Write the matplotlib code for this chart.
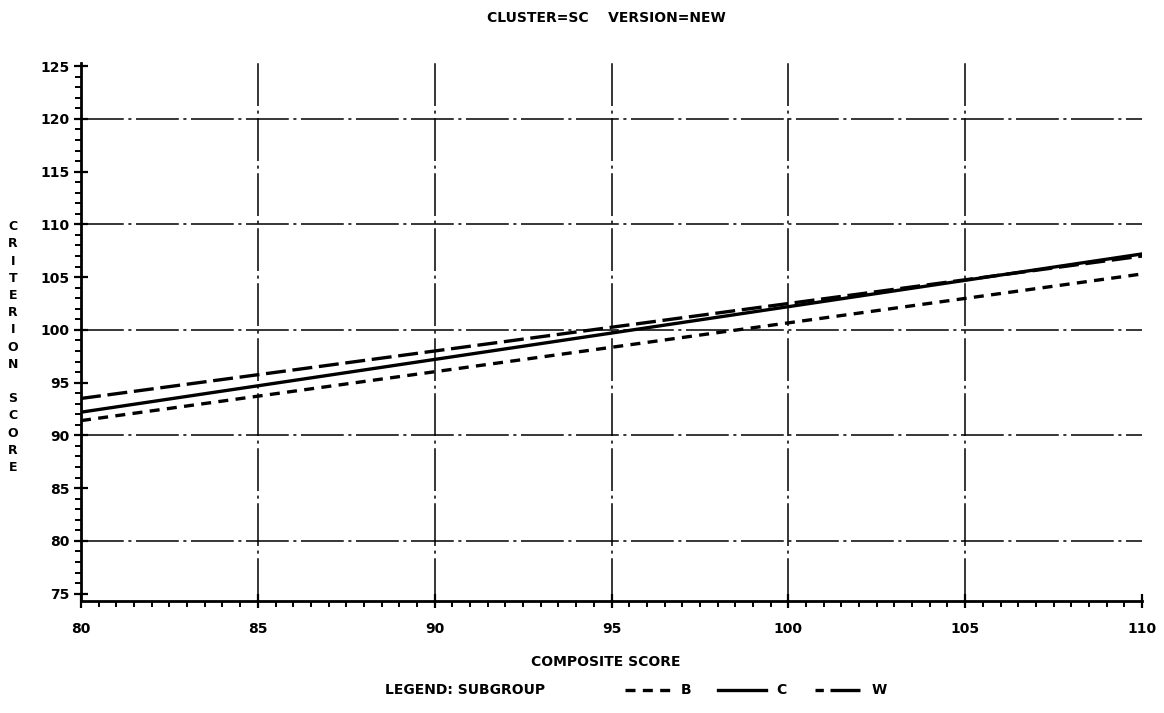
import matplotlib
matplotlib.use("Agg")
import matplotlib.pyplot as plt
from matplotlib.lines import Line2D
from matplotlib.ticker import MultipleLocator

# ---- data ----
x_ends = [80, 110]
subgroups = ["B", "C", "W"]
b_values = [91.4, 105.3]
c_values = [92.2, 107.2]
w_values = [93.5, 107.0]
x_ticks = [80, 85, 90, 95, 100, 105, 110]
y_ticks = [75, 80, 85, 90, 95, 100, 105, 110, 115, 120, 125]
title = "CLUSTER=SC    VERSION=NEW"
x_label = "COMPOSITE SCORE"
y_label = "CRITERION SCORE"
legend_title = "LEGEND: SUBGROUP"

plt.rcParams['font.family'] = ['DejaVu Sans']
plt.rcParams['font.weight'] = 'bold'

fig = plt.figure(figsize=(11.64, 7.13), dpi=100)
ax = fig.add_axes([81/1164, 1-601/713, (1142-81)/1164, (601-63)/713])

ax.set_xlim(80, 110)
ax.set_ylim(74.3, 125.3)

grid_style = (0, (28, 3, 2, 3))
for yv in [80, 90, 100, 110, 120]:
    ax.plot([80, 110], [yv, yv], color='black', lw=1.1, linestyle=grid_style, zorder=1)
for xv in [85, 90, 95, 100, 105]:
    ax.plot([xv, xv], [74.3, 125.3], color='black', lw=1.1, linestyle=grid_style, zorder=1)

styles = {
    "B": dict(linestyle=(0, (3.0, 2.2)), lw=2.4),
    "C": dict(linestyle='-', lw=2.4),
    "W": dict(linestyle=(0, (6.0, 2.0)), lw=2.4),
}
legend_styles = dict(styles)
legend_styles["W"] = dict(linestyle=(0, (2.5, 2.0, 9.0, 2.0)), lw=2.4)
series = {"B": b_values, "C": c_values, "W": w_values}
for name in subgroups:
    ax.plot(x_ends, series[name], color='black', zorder=3, **styles[name])

for s in ['top', 'right']:
    ax.spines[s].set_visible(False)
for s in ['left', 'bottom']:
    ax.spines[s].set_linewidth(2.0)

ax.set_xticks(x_ticks)
ax.set_xticklabels([str(v) for v in x_ticks], fontsize=10, fontweight='bold')
ax.set_yticks(y_ticks)
ax.set_yticklabels([str(v) for v in y_ticks], fontsize=10, fontweight='bold')
ax.xaxis.set_minor_locator(MultipleLocator(0.5))
ax.yaxis.set_minor_locator(MultipleLocator(1))
ax.tick_params(axis='both', which='major', direction='inout', length=10, width=1.6)
ax.tick_params(axis='both', which='minor', direction='out', length=4, width=1.4)
ax.tick_params(axis='x', which='major', pad=10)
ax.tick_params(axis='y', which='major', pad=3)

fig.text(606/1164, 1-18/713, title, ha='center', va='center', fontsize=10, fontweight='bold')
fig.text(606/1164, 1-662/713, x_label, ha='center', va='center', fontsize=10, fontweight='bold')
stack = "\n".join(list("CRITERION")) + "\n\n" + "\n".join(list("SCORE"))
fig.text(13/1164, 1-347/713, stack, ha='center', va='center', fontsize=9,
         fontweight='bold', linespacing=1.42)

# legend row
ly = 1 - 690/713
fig.text(385/1164, ly, legend_title, ha='left', va='center', fontsize=10, fontweight='bold')
leg_pos = [(625, 670, 681), (718, 766, 776), (815, 862, 872)]
for name, (x0, x1, xt) in zip(subgroups, leg_pos):
    fig.add_artist(Line2D([x0/1164, x1/1164], [ly, ly], color='black',
                          transform=fig.transFigure, **legend_styles[name]))
    fig.text(xt/1164, ly, name, ha='left', va='center', fontsize=10, fontweight='bold')

fig.savefig("out.png", dpi=100)
